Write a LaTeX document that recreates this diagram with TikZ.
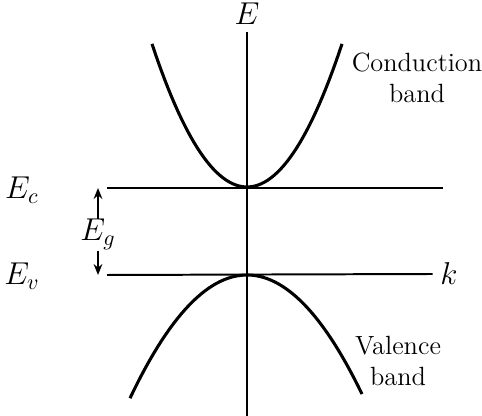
\documentclass[tikz,border=0pt]{standalone}
\usetikzlibrary{arrows.meta,calc}

\begin{document}
\begin{tikzpicture}[x=0.016cm,y=-0.016cm]
  \tikzset{
    level/.style={line width=0.9pt},
    band/.style={line width=1.4pt},
    lbl/.style={font=\Large},
    gap/.style={-{Stealth[length=5pt,width=4pt]},line width=0.8pt},
    txt/.style={font=\large,align=center,inner sep=0pt}
  }
  \useasboundingbox (0,0) rectangle (482,416);
  % axes
  \coordinate (axbot) at (247,416);
  \node[lbl,inner sep=1pt] (E) at (247,14) {$E$};
  \draw[line width=0.8pt] (axbot) -- (247,32);
  % band edges
  \node[lbl] (Ec) at (22,190) {$E_c$};
  \node[lbl] (Ev) at (22,276) {$E_v$};
  \node[lbl] (k) at (449,274) {$k$};
  \coordinate (ecL) at (107,188); \coordinate (ecR) at (443,188);
  \coordinate (evL) at (107,275);
  \draw[level] (ecL) -- (ecR);
  \draw[level] (evL) -- (k.west);
  % bands
  \draw[band] plot[domain=-95:95,samples=60] ({247+\x},{187-0.01585*\x*\x});
  \draw[band] plot[domain=-117:115,samples=60] ({247+\x},{275+0.0090*\x*\x});
  % gap
  \node[lbl,inner sep=0pt] (Eg) at (98,234) {$E_g$};
  \coordinate (egT) at (98,219); \coordinate (egB) at (98,251);
  \draw[gap] (egT) -- (Eg|-ecL);
  \draw[gap] (egB) -- (Eg|-evL);
  % band names
  \node[txt] (cb) at (417,78) {Conduction\\band};
  \node[txt] (vb) at (398,361) {Valence\\band};
\end{tikzpicture}
\end{document}
